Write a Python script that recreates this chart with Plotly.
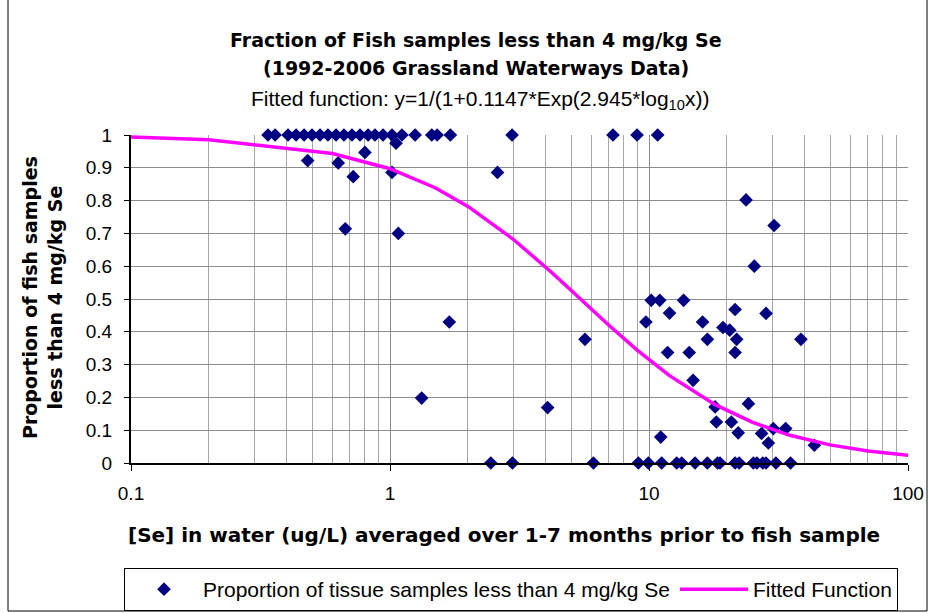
import plotly.graph_objects as go

# ---- data ----
pts_x = [
    # y = 1 row
    0.338, 0.360, 0.404, 0.434, 0.466, 0.500, 0.537, 0.576, 0.619, 0.664, 0.713, 0.766,
    0.823, 0.875, 0.940, 1.018, 1.112, 1.25, 1.45, 1.52, 1.71, 2.96, 7.26, 8.99, 10.8,
    # upper scatter
    0.481, 0.631, 0.80, 0.721, 1.055, 1.018, 2.60, 0.672, 1.077, 1.694, 1.325,
    23.7, 30.4, 25.5,
    # middle cluster
    4.06, 5.66, 10.2, 11.0, 13.6, 12.0, 9.73, 21.5, 28.3, 16.1, 19.3, 20.5, 21.8, 16.8,
    38.6, 11.8, 14.3, 21.5, 14.8, 18.0, 24.2, 18.2, 20.8, 22.1, 11.1, 27.2, 28.9, 30.2,
    33.7, 43.5,
    # y = 0 row
    2.45, 2.97, 6.10, 9.10, 9.94, 11.19, 12.79, 13.37, 15.06, 16.8, 18.4, 18.8, 21.5,
    22.3, 25.3, 26.1, 27.5, 28.3, 30.9, 35.2,
]
pts_y = [
    1, 1, 1, 1, 1, 1, 1, 1, 1, 1, 1, 1,
    1, 1, 1, 1, 1, 1, 1, 1, 1, 1, 1, 1, 1,
    0.922, 0.915, 0.947, 0.873, 0.975, 0.886, 0.886, 0.714, 0.700, 0.430, 0.198,
    0.802, 0.724, 0.600,
    0.169, 0.377, 0.496, 0.496, 0.496, 0.457, 0.430, 0.468, 0.456, 0.430, 0.413, 0.405, 0.377, 0.377,
    0.377, 0.337, 0.337, 0.337, 0.252, 0.171, 0.181, 0.125, 0.125, 0.092, 0.079, 0.090, 0.061, 0.105,
    0.105, 0.054,
    0, 0, 0, 0, 0, 0, 0, 0, 0, 0, 0, 0, 0,
    0, 0, 0, 0, 0, 0, 0,
]

fit_x = [0.1, 0.2, 0.6, 1, 1.5, 2, 3, 3.5, 4.2, 5, 7, 9, 12, 18, 25, 35, 50, 70, 100]
fit_y = [0.994, 0.9856, 0.9437, 0.8971, 0.8384, 0.7823, 0.6814, 0.6371, 0.5817, 0.5267,
         0.4200, 0.3442, 0.2664, 0.1778, 0.1244, 0.0845, 0.0553, 0.0367, 0.0236]

x_ticks = [0.1, 1, 10, 100]
x_tick_text = ["0.1", "1", "10", "100"]
x_minor = [0.2, 0.3, 0.4, 0.5, 0.6, 0.7, 0.8, 0.9,
           2, 3, 4, 5, 6, 7, 8, 9,
           20, 30, 40, 50, 60, 70, 80, 90]
y_ticks = [0, 0.1, 0.2, 0.3, 0.4, 0.5, 0.6, 0.7, 0.8, 0.9, 1]
y_tick_text = ["0", "0.1", "0.2", "0.3", "0.4", "0.5", "0.6", "0.7", "0.8", "0.9", "1"]

title1 = "Fraction of Fish samples less than 4 mg/kg Se"
title2 = "(1992-2006 Grassland Waterways Data)"
title3 = "Fitted function: y=1/(1+0.1147*Exp(2.945*log<sub>10</sub>x))"
xlabel = "[Se] in water (ug/L) averaged over 1-7 months prior to fish sample"
ylabel = "Proportion of fish samples<br>less than 4 mg/kg Se"
name_pts = "Proportion of tissue samples less than 4 mg/kg Se"
name_fit = "Fitted Function"

# ---- layout geometry (pixels) ----
W, H = 935, 613
L, R, T, B = 131, 908, 135, 463
pw, ph = R - L, B - T

def px(xp):
    return (xp - L) / pw

def py(yp):
    return (B - yp) / ph

FONT = "Liberation Sans, Arial, sans-serif"
BOLD = "DejaVu Sans, Liberation Sans, Arial, sans-serif"

fig = go.Figure()
fig.add_trace(go.Scatter(
    x=pts_x, y=pts_y, mode="markers", name=name_pts,
    marker=dict(symbol="diamond", size=10.5, color="#000080"),
    cliponaxis=False,
))
fig.add_trace(go.Scatter(
    x=fit_x, y=fit_y, mode="lines", name=name_fit,
    line=dict(color="#FF00FF", width=3.5),
    cliponaxis=False,
))

fig.update_layout(
    width=W, height=H,
    margin=dict(l=L, r=W - R, t=T, b=H - B, autoexpand=False),
    paper_bgcolor="white", plot_bgcolor="white",
    font=dict(family=FONT, size=19, color="black"),
    showlegend=True,
    legend=dict(
        orientation="h", x=px(124), y=py(568), xanchor="left", yanchor="top",
        bordercolor="black", borderwidth=1, bgcolor="white",
        font=dict(family=FONT, size=21, color="black"),
        itemwidth=68,
    ),
    xaxis=dict(
        type="log", range=[-1, 2], automargin=False,
        tickvals=x_ticks, ticktext=x_tick_text,
        showgrid=True, gridcolor="#8c8c8c", gridwidth=1,
        minor=dict(tickvals=x_minor, showgrid=True, gridcolor="#a6a6a6", gridwidth=1, ticks=""),
        showline=True, linecolor="black", linewidth=2,
        ticks="outside", ticklen=6, tickcolor="black", tickwidth=1,
        ticklabelstandoff=6,
        tickfont=dict(size=19), zeroline=False,
    ),
    yaxis=dict(
        range=[0, 1], automargin=False, tickvals=y_ticks, ticktext=y_tick_text,
        showgrid=True, gridcolor="#8c8c8c", gridwidth=1,
        showline=True, linecolor="black", linewidth=2,
        ticks="outside", ticklen=5, tickcolor="black", tickwidth=1,
        ticklabelstandoff=8,
        tickfont=dict(size=19), zeroline=False,
    ),
    shapes=[dict(
        type="rect", xref="paper", yref="paper",
        x0=px(8), x1=px(927), y0=py(611), y1=py(-2),
        line=dict(color="black", width=1), fillcolor="rgba(0,0,0,0)", layer="below",
    )],
    annotations=[
        dict(text="<b>" + title1 + "</b>", xref="paper", yref="paper", x=px(476), y=py(40),
             showarrow=False, font=dict(family=BOLD, size=19), xanchor="center", yanchor="middle"),
        dict(text="<b>" + title2 + "</b>", xref="paper", yref="paper", x=px(476), y=py(68),
             showarrow=False, font=dict(family=BOLD, size=19), xanchor="center", yanchor="middle"),
        dict(text=title3, xref="paper", yref="paper", x=px(480), y=py(100),
             showarrow=False, font=dict(family=FONT, size=21), xanchor="center", yanchor="middle"),
        dict(text="<b>" + xlabel + "</b>", xref="paper", yref="paper", x=px(504), y=py(535),
             showarrow=False, font=dict(family=BOLD, size=20), xanchor="center", yanchor="middle"),
        dict(text="<b>" + ylabel + "</b>", xref="paper", yref="paper", x=px(42), y=py(298),
             showarrow=False, font=dict(family=BOLD, size=19), textangle=-90,
             xanchor="center", yanchor="middle"),
    ],
)

fig.write_html("out.html")
